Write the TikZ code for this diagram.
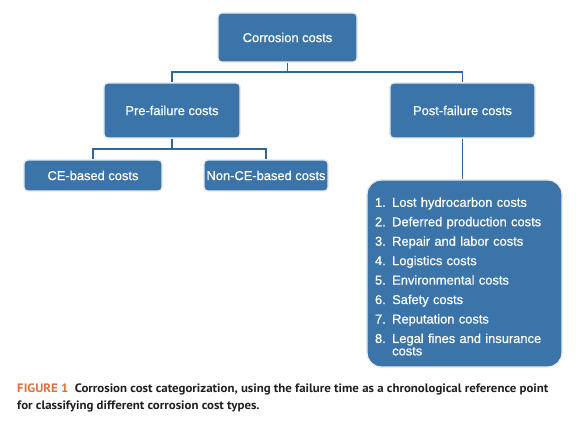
\documentclass[tikz,border=0pt]{standalone}
\usepackage{fontspec}
\setmainfont{Liberation Sans}
\newfontfamily\boxfont{Liberation Sans}[FakeBold=0.6]
\newfontfamily\capfont{PT Sans}[FakeStretch=1.055]
\usepackage{xcolor}

\definecolor{costblue}{HTML}{3A74A9}
\definecolor{linkblue}{HTML}{2E6797}
\definecolor{figorange}{HTML}{E0703A}
\definecolor{captext}{HTML}{231F20}

\tikzset{
  costbox/.style={fill=costblue, draw=black!8, line width=1.2pt, rounded corners=3pt,
    text=white, font=\boxfont\fontsize{11}{13}\selectfont, inner sep=0pt},
  link/.style={draw=linkblue, line width=1.7pt}
}

\begin{document}
\begin{tikzpicture}[x=0.03cm,y=-0.03cm]

\useasboundingbox[fill=white] (0,0) rectangle (580,425);

\node[costbox, minimum width=4.17cm, minimum height=1.47cm] (corr) at (287.5,37.5) {Corrosion costs};
\node[costbox, minimum width=4.08cm, minimum height=1.65cm] (pre) at (172,110.5) {Pre-failure costs};
\node[costbox, minimum width=4.35cm, minimum height=1.65cm] (post) at (462.5,110.5) {Post-failure costs};
\node[costbox, minimum width=4.14cm, minimum height=0.93cm] (ce) at (93,175.5) {CE-based costs};
\node[costbox, minimum width=3.72cm, minimum height=0.93cm] (nonce) at (266,175.5) {Non-CE-based costs};
\node[costbox, rounded corners=12pt, minimum width=5.85cm, minimum height=5.61cm] (list) at (464.5,273.5) {};
\node[text=white, text width=5.37cm, align=left, inner sep=0pt,
  font=\boxfont\fontsize{11}{16.6}\selectfont] (listtext) at (464.5,276.5)
  {1. Lost hydrocarbon costs\\
   2. Deferred production costs\\
   3. Repair and labor costs\\
   4. Logistics costs\\
   5. Environmental costs\\
   6. Safety costs\\
   7. Reputation costs\\
   8. Legal fines and insurance\\[-6pt]
   \phantom{8. }costs};

\coordinate (topfork) at (287.5,72);
\coordinate (prefork) at (172,149);
\draw[link] (corr.south) -- (topfork) -| (pre.north);
\draw[link] (topfork) -| (post.north);
\draw[link] (pre.south) -- (prefork) -| (ce.north);
\draw[link] (prefork) -| (nonce.north);
\draw[link] (post.south) -- (post.south |- list.north);

\node[anchor=base west, align=left, inner sep=0pt, text=captext,
  font=\capfont\bfseries\fontsize{10.4}{14.5}\selectfont] (caption) at (17,409)
  {\textcolor{figorange}{FIGURE 1}\ \ Corrosion cost categorization, using the failure time as a chronological reference point\\
   for classifying different corrosion cost types.};

\end{tikzpicture}
\end{document}
